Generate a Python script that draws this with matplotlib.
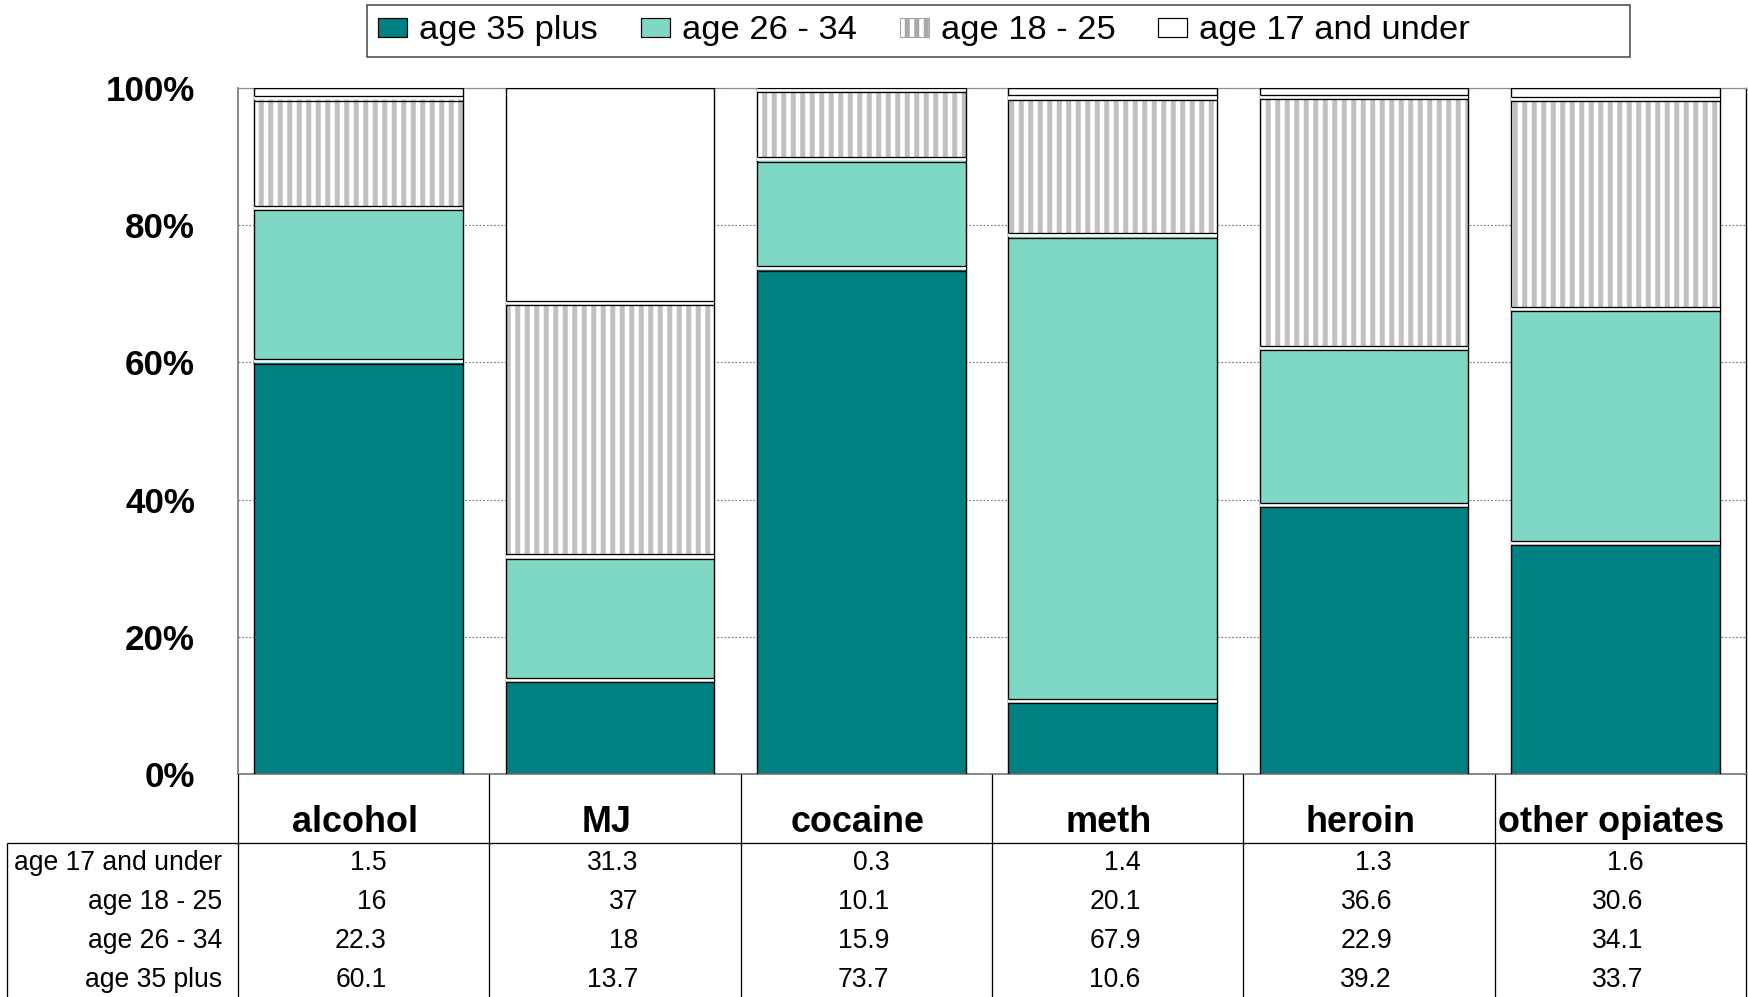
import numpy as np
import matplotlib
matplotlib.use('Agg')
import matplotlib.pyplot as plt
import matplotlib.transforms as mtransforms
from matplotlib.patches import Patch, Rectangle
from matplotlib.ticker import PercentFormatter

# ---------------- data ----------------
categories = ['alcohol', 'MJ', 'cocaine', 'meth', 'heroin', 'other opiates']
series_names = ['age 35 plus', 'age 26 - 34', 'age 18 - 25', 'age 17 and under']
age_35_plus = [60.1, 13.7, 73.7, 10.6, 39.2, 33.7]
age_26_34 = [22.3, 18, 15.9, 67.9, 22.9, 34.1]
age_18_25 = [16, 37, 10.1, 20.1, 36.6, 30.6]
age_17_under = [1.5, 31.3, 0.3, 1.4, 1.3, 1.6]
ytick_values = [0, 20, 40, 60, 80, 100]

# ---------------- layout helpers ----------------
W, H, DPI = 1748, 997, 114


def pt(pixels):
    return pixels * 72.0 / DPI


plt.rcParams['font.family'] = ['Liberation Sans', 'DejaVu Sans']
plt.rcParams['hatch.linewidth'] = pt(5)

fig = plt.figure(figsize=(W / DPI, H / DPI), dpi=DPI)
fig.patch.set_facecolor('white')

L, R, T, B = 238, 1746, 88, 774
ax = fig.add_axes([L / W, 1 - B / H, (R - L) / W, (B - T) / H])
unit = (R - L) / len(categories)

series = [age_35_plus, age_26_34, age_18_25, age_17_under]
data = np.array(series, dtype=float)
pct = data / data.sum(axis=0) * 100.0

x = np.arange(len(categories)) - 5 / unit
width = 0.83
teal = '#008080'
light = '#7FD8C4'
hatch_gray = '#C0C0C0'
styles = [
    dict(facecolor=teal),
    dict(facecolor=light),
    dict(facecolor='white', edgecolor=hatch_gray, hatch='||'),
    dict(facecolor='white'),
]

bottom = np.zeros(len(categories))
bounds = []
for vals, st in zip(pct, styles):
    ax.bar(x, vals, width, bottom=bottom, linewidth=0, zorder=2, **st)
    ax.bar(x, vals, width, bottom=bottom, fill=False, edgecolor='black',
           linewidth=pt(1.4), zorder=3)
    bottom = bottom + vals
    bounds.append(bottom.copy())

# white gaps between stacked segments (Excel look)
up = ax.transData + mtransforms.ScaledTranslation(0, 2.2 / DPI, fig.dpi_scale_trans)
dn = ax.transData + mtransforms.ScaledTranslation(0, -2.2 / DPI, fig.dpi_scale_trans)
for b in bounds[:-1]:
    ax.hlines(b, x - width / 2, x + width / 2, color='white', linewidth=pt(3.6), zorder=4)
    ax.hlines(b, x - width / 2, x + width / 2, color='black', linewidth=pt(1.3),
              zorder=5, transform=up)
    ax.hlines(b, x - width / 2, x + width / 2, color='black', linewidth=pt(1.3),
              zorder=5, transform=dn)

ax.set_xlim(-0.5, len(categories) - 0.5)
ax.set_ylim(0, 100)
ax.set_xticks([])
ax.set_yticks(ytick_values)
ax.yaxis.set_major_formatter(PercentFormatter(xmax=100, decimals=0))
ax.tick_params(axis='y', length=0, pad=pt(43), labelsize=pt(35))
plt.setp(ax.get_yticklabels(), fontweight='bold')
ax.set_axisbelow(True)
ax.yaxis.grid(True, color='#808080', linestyle=(0, (1.5, 1.5)), linewidth=pt(1.2))

for side, col, lw in [('left', '#808080', 1.8), ('top', '#909090', 1.2),
                      ('right', 'black', 1.4), ('bottom', '#808080', 1.8)]:
    ax.spines[side].set_color(col)
    ax.spines[side].set_linewidth(pt(lw))

# ---------------- legend ----------------
handles = [
    Patch(facecolor=teal, edgecolor='black', linewidth=pt(1.2)),
    Patch(facecolor=light, edgecolor='black', linewidth=pt(1.2)),
    Patch(facecolor='white', edgecolor='#A8A8A8', hatch='||', linewidth=pt(1.2)),
    Patch(facecolor='white', edgecolor='black', linewidth=pt(1.2)),
]
fs_leg = 34.5
fig.legend(handles, series_names, loc='center left',
           bbox_to_anchor=(378 / W, 1 - 31 / H), ncol=4, frameon=False,
           fontsize=pt(fs_leg), handlelength=29 / fs_leg, handleheight=16 / fs_leg,
           handletextpad=12 / fs_leg, columnspacing=43 / fs_leg,
           borderpad=0, borderaxespad=0)
fig.add_artist(Rectangle((367 / W, 1 - 57 / H), (1630 - 367) / W, 52 / H,
                         transform=fig.transFigure, fill=False,
                         edgecolor='#404040', linewidth=pt(1.5)))

# ---------------- data table ----------------
TL = 7
tax = fig.add_axes([TL / W, 0, (R - TL) / W, (H - B) / H])
tax.axis('off')
xmin = -0.5 - (L - TL) / unit
tax.set_xlim(xmin, len(categories) - 0.5)
tax.set_ylim(H, B)

line_kw = dict(color='black', linewidth=pt(1.3), clip_on=False)
tax.vlines(np.arange(len(categories) + 1) - 0.5, B, H, **line_kw)
tax.vlines([xmin], 843, H, **line_kw)
tax.hlines([843], xmin, len(categories) - 0.5, **line_kw)

for i, cat in enumerate(categories):
    tax.text(i - 0.035, 832, cat, ha='center', va='baseline',
             fontsize=pt(36), fontweight='bold')

row_series = [age_17_under, age_18_25, age_26_34, age_35_plus]
row_names = series_names[::-1]
row_base = [870, 909, 948, 987]
lab_x = -0.5 - (L - 222) / unit
for yb, name, vals in zip(row_base, row_names, row_series):
    tax.text(lab_x, yb, name, ha='right', va='baseline', fontsize=pt(26.5))
    for i, v in enumerate(vals):
        tax.text(i + 23 / unit, yb, f'{v:g}', ha='right', va='baseline',
                 fontsize=pt(26.5))

fig.savefig('out.png', dpi=DPI, facecolor='white')
